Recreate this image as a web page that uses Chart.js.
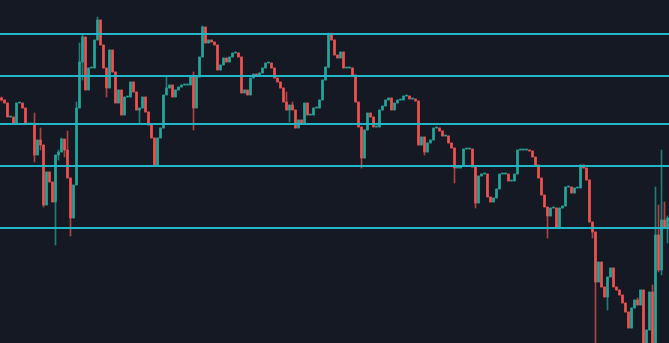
<!DOCTYPE html>
<html>
<head>
<meta charset="utf-8">
<script src="https://cdn.jsdelivr.net/npm/chart.js@4.4.1/dist/chart.umd.min.js"></script>
<style>
  html, body { margin: 0; padding: 0; background: #151924; }
  #wrap { width: 669px; height: 343px; position: relative; }
</style>
</head>
<body>
<div id="wrap"><canvas id="candles"></canvas></div>
<script>
// OHLC values, one entry per candle
const opens = [
  402,400,397,383,383,376,397,397,392,376,376,376,345,360,355,295,328,318,298,345,
  348,361,350,322,282,315,392,438,463,410,432,432,460,480,455,432,412,450,428,397,
  410,385,403,403,418,408,390,392,403,388,375,362,335,362,372,405,412,415,403,410,
  413,415,415,415,423,392,423,443,473,457,460,458,455,430,435,442,438,443,447,447,
  443,407,410,405,422,426,424,427,432,437,437,432,422,418,412,398,390,395,390,372,
  380,377,397,385,385,392,392,400,420,433,465,460,445,442,448,432,432,432,425,398,
  373,342,370,387,383,373,373,390,394,400,402,390,397,400,400,404,404,401,401,399,
  355,363,348,357,360,372,372,369,364,364,357,352,332,332,334,351,351,351,333,297,
  324,326,326,303,298,302,311,326,326,326,319,319,326,350,350,350,350,349,343,335,
  322,305,293,284,292,292,273,292,294,313,313,307,312,312,335,332,320,278,268,218,
  238,213,203,223,232,213,210,205,197,188,172,192,200,195,210,150,170,208,155,265,
  230,280,273
];
const closes = [
  400,397,383,383,376,397,397,392,376,376,376,345,360,355,295,328,318,298,345,348,
  361,350,322,282,315,392,438,463,410,432,432,460,480,455,432,412,450,428,397,410,
  385,403,403,418,408,390,392,403,388,375,362,335,362,372,405,412,415,403,410,413,
  415,415,415,423,392,423,443,473,457,460,458,455,430,435,442,438,443,447,447,443,
  407,410,405,422,426,424,427,432,437,437,432,422,418,412,398,390,395,390,372,380,
  377,397,385,385,392,392,400,420,433,465,460,445,442,448,432,432,432,425,398,373,
  342,370,387,383,373,373,390,394,400,402,390,397,400,400,404,404,401,401,399,355,
  363,348,357,360,372,372,369,364,364,357,352,332,332,334,351,351,351,333,297,324,
  326,326,303,298,302,311,326,326,326,319,319,326,350,350,350,350,349,343,335,322,
  305,293,284,292,292,273,292,294,313,313,307,312,312,335,332,320,278,268,218,238,
  213,203,223,232,213,210,205,197,188,172,192,200,195,210,150,170,208,155,265,230,
  280,273,282
];
const highs = [
  403,400,397,383,383,397,397,397,392,376,376,387,360,372,355,328,328,318,345,350,
  362,361,369,322,315,398,457,465,463,432,432,460,483,480,455,432,450,450,428,410,
  410,403,403,418,418,408,392,403,403,388,375,362,362,372,405,423,415,415,410,413,
  415,415,415,423,428,423,443,474,473,460,460,458,455,435,442,442,443,447,447,447,
  443,410,410,422,426,426,427,432,437,437,437,432,422,418,412,408,395,398,390,380,
  380,397,397,385,392,392,400,420,433,467,467,460,445,448,448,432,432,432,425,398,
  373,370,387,387,383,373,390,394,400,402,402,397,400,400,404,404,404,401,401,399,
  363,363,357,360,372,372,372,369,364,364,357,352,332,334,351,351,351,351,333,324,
  326,326,326,303,302,311,326,326,326,326,319,326,350,350,350,350,350,349,343,335,
  322,305,293,292,292,292,292,294,313,313,313,312,312,335,335,332,320,278,268,238,
  238,213,223,232,232,213,210,205,197,188,192,200,202,210,210,170,208,215,313,295,
  350,298,284
];
const lows = [
  399,397,383,383,376,376,397,392,376,376,376,338,345,350,293,295,318,298,255,340,
  348,343,322,264,282,315,392,420,410,410,432,432,460,455,432,403,412,428,397,397,
  385,385,403,403,408,390,376,392,388,375,362,335,335,362,372,405,412,403,403,410,
  413,415,415,415,370,392,423,443,457,457,458,455,430,430,435,438,438,443,447,443,
  407,407,405,405,422,424,424,427,432,437,432,422,418,412,398,390,378,390,372,372,
  377,377,385,385,385,392,392,400,420,432,460,445,442,442,432,432,432,425,398,373,
  332,342,370,383,373,373,373,390,394,400,390,390,397,400,400,404,401,401,399,355,
  355,345,348,357,360,372,369,364,364,357,352,317,332,332,334,351,351,333,292,297,
  324,326,303,298,298,302,311,326,326,319,319,319,326,350,350,350,349,343,335,322,
  305,293,262,284,292,273,273,292,294,313,307,307,312,312,332,320,278,262,150,218,
  213,203,190,223,213,210,205,197,188,172,172,192,195,195,145,145,170,150,150,228,
  225,273,257
];
const levels = [466, 424, 376, 334, 272];
const labels = opens.map((_, i) => i + 1);

const UP = '#26a69a';
const DOWN = '#ef5350';
const LEVEL_COLOR = '#22b5c8';

const candleColor = (ctx, alpha) => {
    const i = ctx.dataIndex;
    const up = closes[i] >= opens[i];
    if (alpha) return up ? 'rgba(38,166,154,' + alpha + ')' : 'rgba(239,83,80,' + alpha + ')';
    return up ? UP : DOWN;
};

// horizontal price levels, drawn over the candles
const levelLines = {
    id: 'levelLines',
    afterDatasetsDraw(chart) {
        const { ctx, chartArea, scales } = chart;
        ctx.save();
        ctx.strokeStyle = LEVEL_COLOR;
        ctx.lineWidth = 2;
        levels.forEach(v => {
            const y = scales.y.getPixelForValue(v);
            ctx.beginPath();
            ctx.moveTo(chartArea.left, y);
            ctx.lineTo(chartArea.right, y);
            ctx.stroke();
        });
        ctx.restore();
    }
};

new Chart(document.getElementById('candles'), {
    type: 'bar',
    data: {
        labels: labels,
        datasets: [
            {
                label: 'body',
                data: opens.map((o, i) => [o, closes[i]]),
                backgroundColor: ctx => candleColor(ctx),
                barThickness: 2,
                minBarLength: 1,
                grouped: false,
                order: 0
            },
            {
                label: 'wick',
                data: lows.map((l, i) => [l, highs[i]]),
                backgroundColor: ctx => candleColor(ctx, 0.7),
                barThickness: 1,
                grouped: false,
                order: 1
            }
        ]
    },
    options: {
        responsive: true,
        maintainAspectRatio: false,
        animation: false,
        layout: { padding: 0 },
        plugins: { legend: { display: false }, tooltip: { enabled: false } },
        scales: {
            x: { display: false },
            y: { display: false, min: 157, max: 500 }
        }
    },
    plugins: [levelLines]
});
</script>
</body>
</html>
